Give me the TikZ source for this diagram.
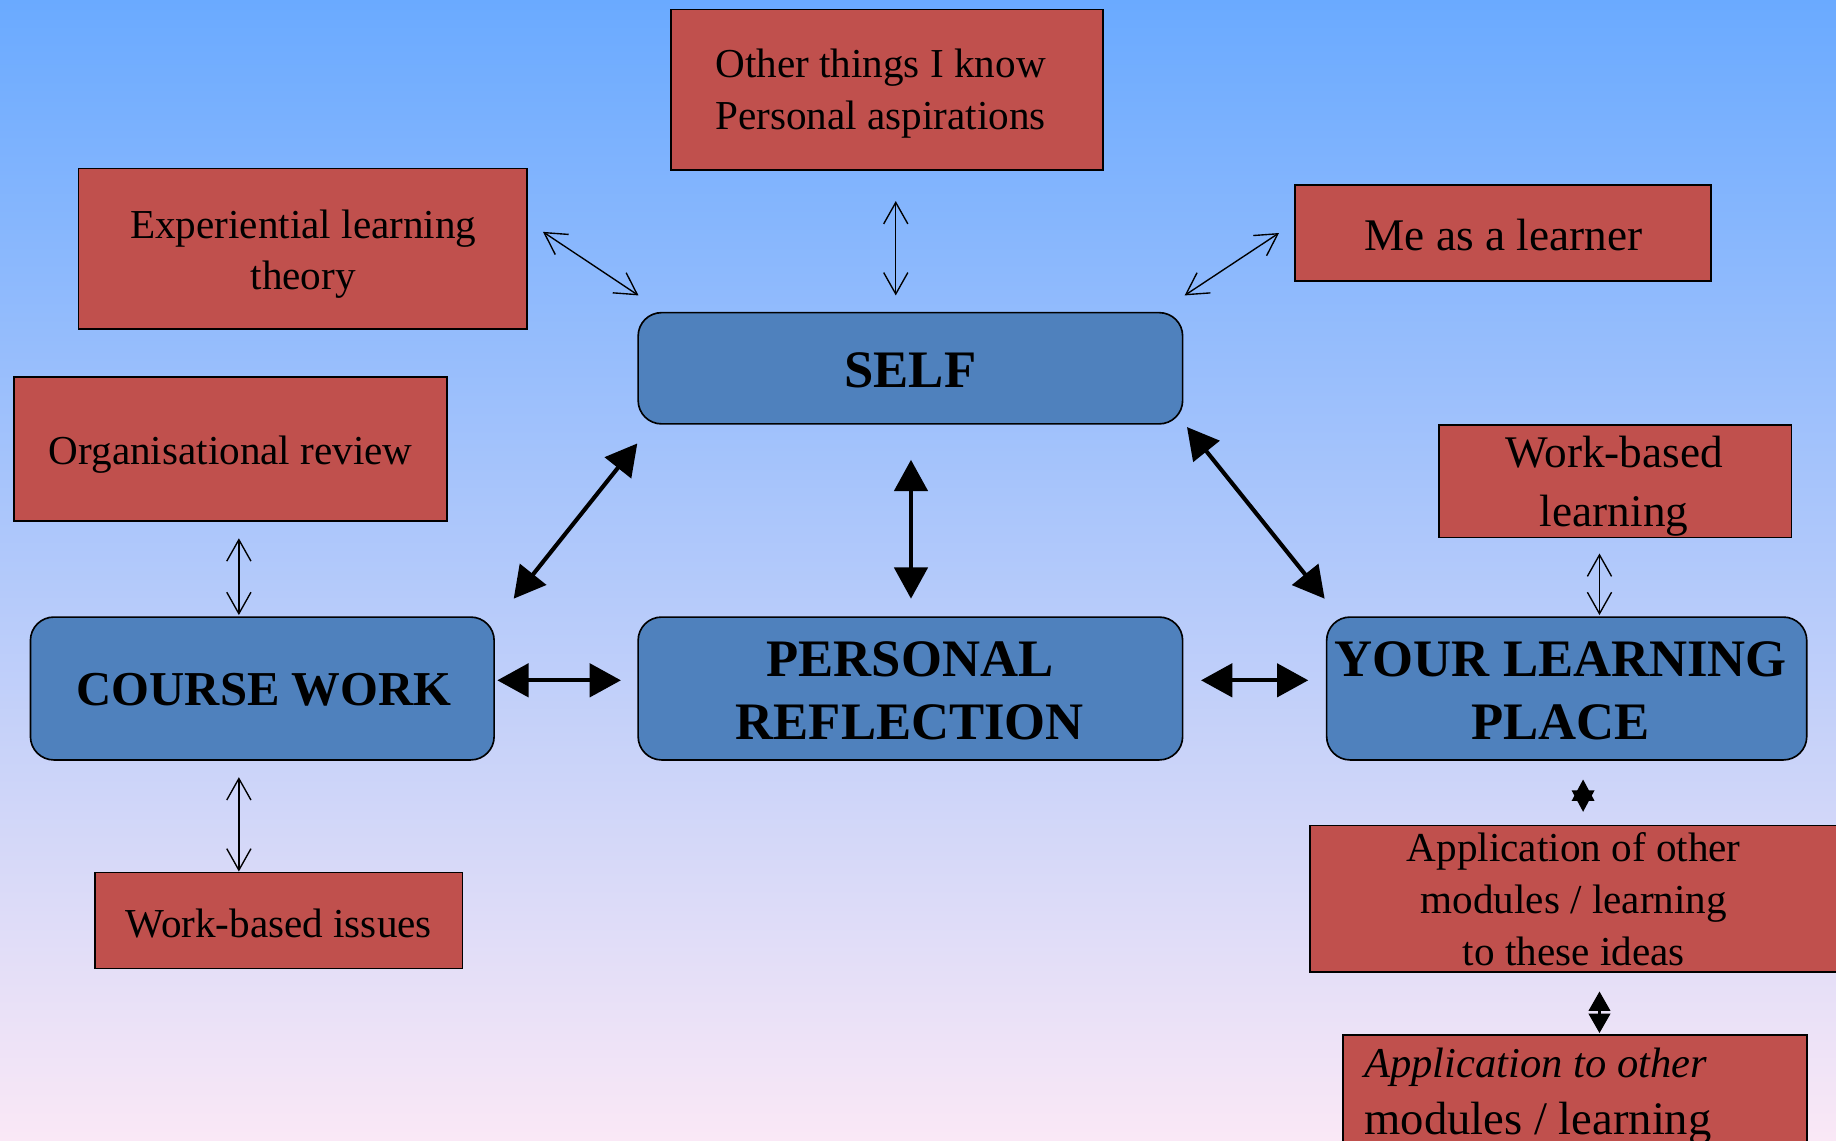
\documentclass[tikz,border=0pt]{standalone}
\usepackage{fontspec}
\setmainfont{Liberation Serif}
\usetikzlibrary{arrows.meta}
\definecolor{redfill}{HTML}{C0504D}
\definecolor{bluefill}{HTML}{4F81BD}
\definecolor{bgtop}{RGB}{106,170,255}
\definecolor{bgmid}{RGB}{170,202,240}
\definecolor{bgbot}{RGB}{250,232,246}
\tikzset{
  redbox/.style={draw=black, line width=1.2pt, fill=redfill, inner sep=0pt},
  bluebox/.style={draw=black, line width=1.2pt, fill=bluefill, rounded corners=0.6cm, inner sep=0pt},
  redtext/.style={align=center, inner sep=0pt, font=\fontsize{30pt}{37.6pt}\selectfont},
  bigredtext/.style={align=center, inner sep=0pt, font=\fontsize{33pt}{42.7pt}\selectfont},
  bluetext/.style={align=center, inner sep=0pt, font=\bfseries\fontsize{38.4pt}{46pt}\selectfont},
  thinarrow/.style={line width=1pt, {Straight Barb[length=0.55cm,width=0.62cm]}-{Straight Barb[length=0.55cm,width=0.62cm]}},
  thickarrow/.style={line width=3pt, {Triangle[length=0.8cm,width=0.85cm]}-{Triangle[length=0.8cm,width=0.85cm]}},
  smallarrow/.style={line width=2pt, {Triangle[length=0.5cm,width=0.55cm]}-{Triangle[length=0.5cm,width=0.55cm]}},
  tinyarrow/.style={line width=1pt, {Triangle[length=0.55cm,width=0.58cm]}-{Triangle[length=0.55cm,width=0.58cm]}},
}
\begin{document}
\begin{tikzpicture}[x=0.03cm,y=-0.03cm]
\useasboundingbox (0,0) rectangle (1568,974);
\clip (0,0) rectangle (1568,974);
\shade[top color=bgtop, middle color=bgmid, bottom color=bgbot] (0,0) rectangle (1568,974);

% red boxes
\node[redbox, minimum width=11.07cm, minimum height=4.11cm] (t1) at (757.5,76.5) {};
\node[redtext] (t1txt) at (752,80) {Other things I know\\Personal aspirations};
\node[redbox, minimum width=11.49cm, minimum height=4.11cm] (t2) at (258.5,212.5) {};
\node[redtext] (t2txt) at (259,217) {Experiential learning\\theory};
\node[redbox, minimum width=10.65cm, minimum height=2.46cm] (t3) at (1283.5,199) {};
\node[bigredtext] (t3txt) at (1284,201) {Me as a learner};
\node[redbox, minimum width=11.1cm, minimum height=3.69cm] (t4) at (197,383.5) {};
\node[redtext] (t4txt) at (197,388) {Organisational review};
\node[redbox, minimum width=9.03cm, minimum height=2.88cm] (t5) at (1379.5,411) {};
\node[bigredtext] (t5txt) at (1378.5,415) {Work-based\\learning};
\node[redbox, minimum width=9.42cm, minimum height=2.46cm] (t6) at (238,786) {};
\node[redtext] (t6txt) at (238,789) {Work-based issues};
\node[redbox, minimum width=14.13cm, minimum height=3.75cm] (t7) at (1354.5,767.5) {};
\node[redtext] (t7txt) at (1344,768) {Application of other\\modules / learning\\to these ideas};
\node[redbox, minimum width=11.88cm, minimum height=3.9cm] (t8) at (1345,949) {};
\node[redtext, align=left, anchor=north west, font=\fontsize{34pt}{41pt}\selectfont] (t8txt) at (1165,895) {{\itshape\fontsize{31pt}{41pt}\selectfont Application to other}\\modules / learning};

% blue boxes
\node[bluebox, minimum width=13.95cm, minimum height=2.85cm] (self) at (777.5,314.5) {};
\node[bluetext] (selftxt) at (777.5,316) {SELF};
\node[bluebox, minimum width=11.88cm, minimum height=3.66cm] (cw) at (224,588) {};
\node[bluetext, font=\bfseries\fontsize{35.5pt}{46pt}\selectfont] (cwtxt) at (225.5,589) {COURSE WORK};
\node[bluebox, minimum width=13.95cm, minimum height=3.66cm] (pr) at (777.5,588) {};
\node[bluetext] (prtxt) at (777,590) {PERSONAL\\REFLECTION};
\node[bluebox, minimum width=12.3cm, minimum height=3.66cm] (ylp) at (1338,588) {};
\node[bluetext] (ylptxt) at (1333,590) {YOUR LEARNING\\PLACE};

% thin arrows
\draw[thinarrow] ([shift={(13,-14.5)}]t2.east) -- ([shift={(1,-14)}]self.north west);
\draw[thinarrow] ([shift={(7.5,26)}]t1.south) -- ([shift={(-12.5,-14)}]self.north);
\draw[thinarrow] ([shift={(-13,0)}]t3.west) -- ([shift={(1,-14)}]self.north east);
\draw[thinarrow] ([shift={(7,14)}]t4.south) -- ([shift={(-20,-1)}]cw.north);
\draw[thinarrow] ([shift={(-20,14)}]cw.south) -- ([shift={(-34,0)}]t6.north);
\draw[thinarrow] ([shift={(-13.5,13)}]t5.south) -- ([shift={(28,-1)}]ylp.north);

% thick arrows
\draw[thickarrow] ([shift={(16,-15)}]cw.north east) -- ([shift={(0,16)}]self.south west);
\draw[thickarrow] ([shift={(0.5,30)}]self.south) -- ([shift={(0.5,-15)}]pr.north);
\draw[thickarrow] ([shift={(3,2)}]self.south east) -- ([shift={(-1,-15)}]ylp.north west);
\draw[thickarrow] ([shift={(2,-7)}]cw.east) -- ([shift={(-14,-7)}]pr.west);
\draw[thickarrow] ([shift={(15,-7)}]pr.east) -- ([shift={(-15,-7)}]ylp.west);
\draw[tinyarrow] ([shift={(14,16)}]ylp.south) -- ([shift={(-2.5,-11)}]t7.north);
\draw[smallarrow] ([shift={(11.5,16)}]t7.south) -- ([shift={(21,-1)}]t8.north);
\end{tikzpicture}
\end{document}
